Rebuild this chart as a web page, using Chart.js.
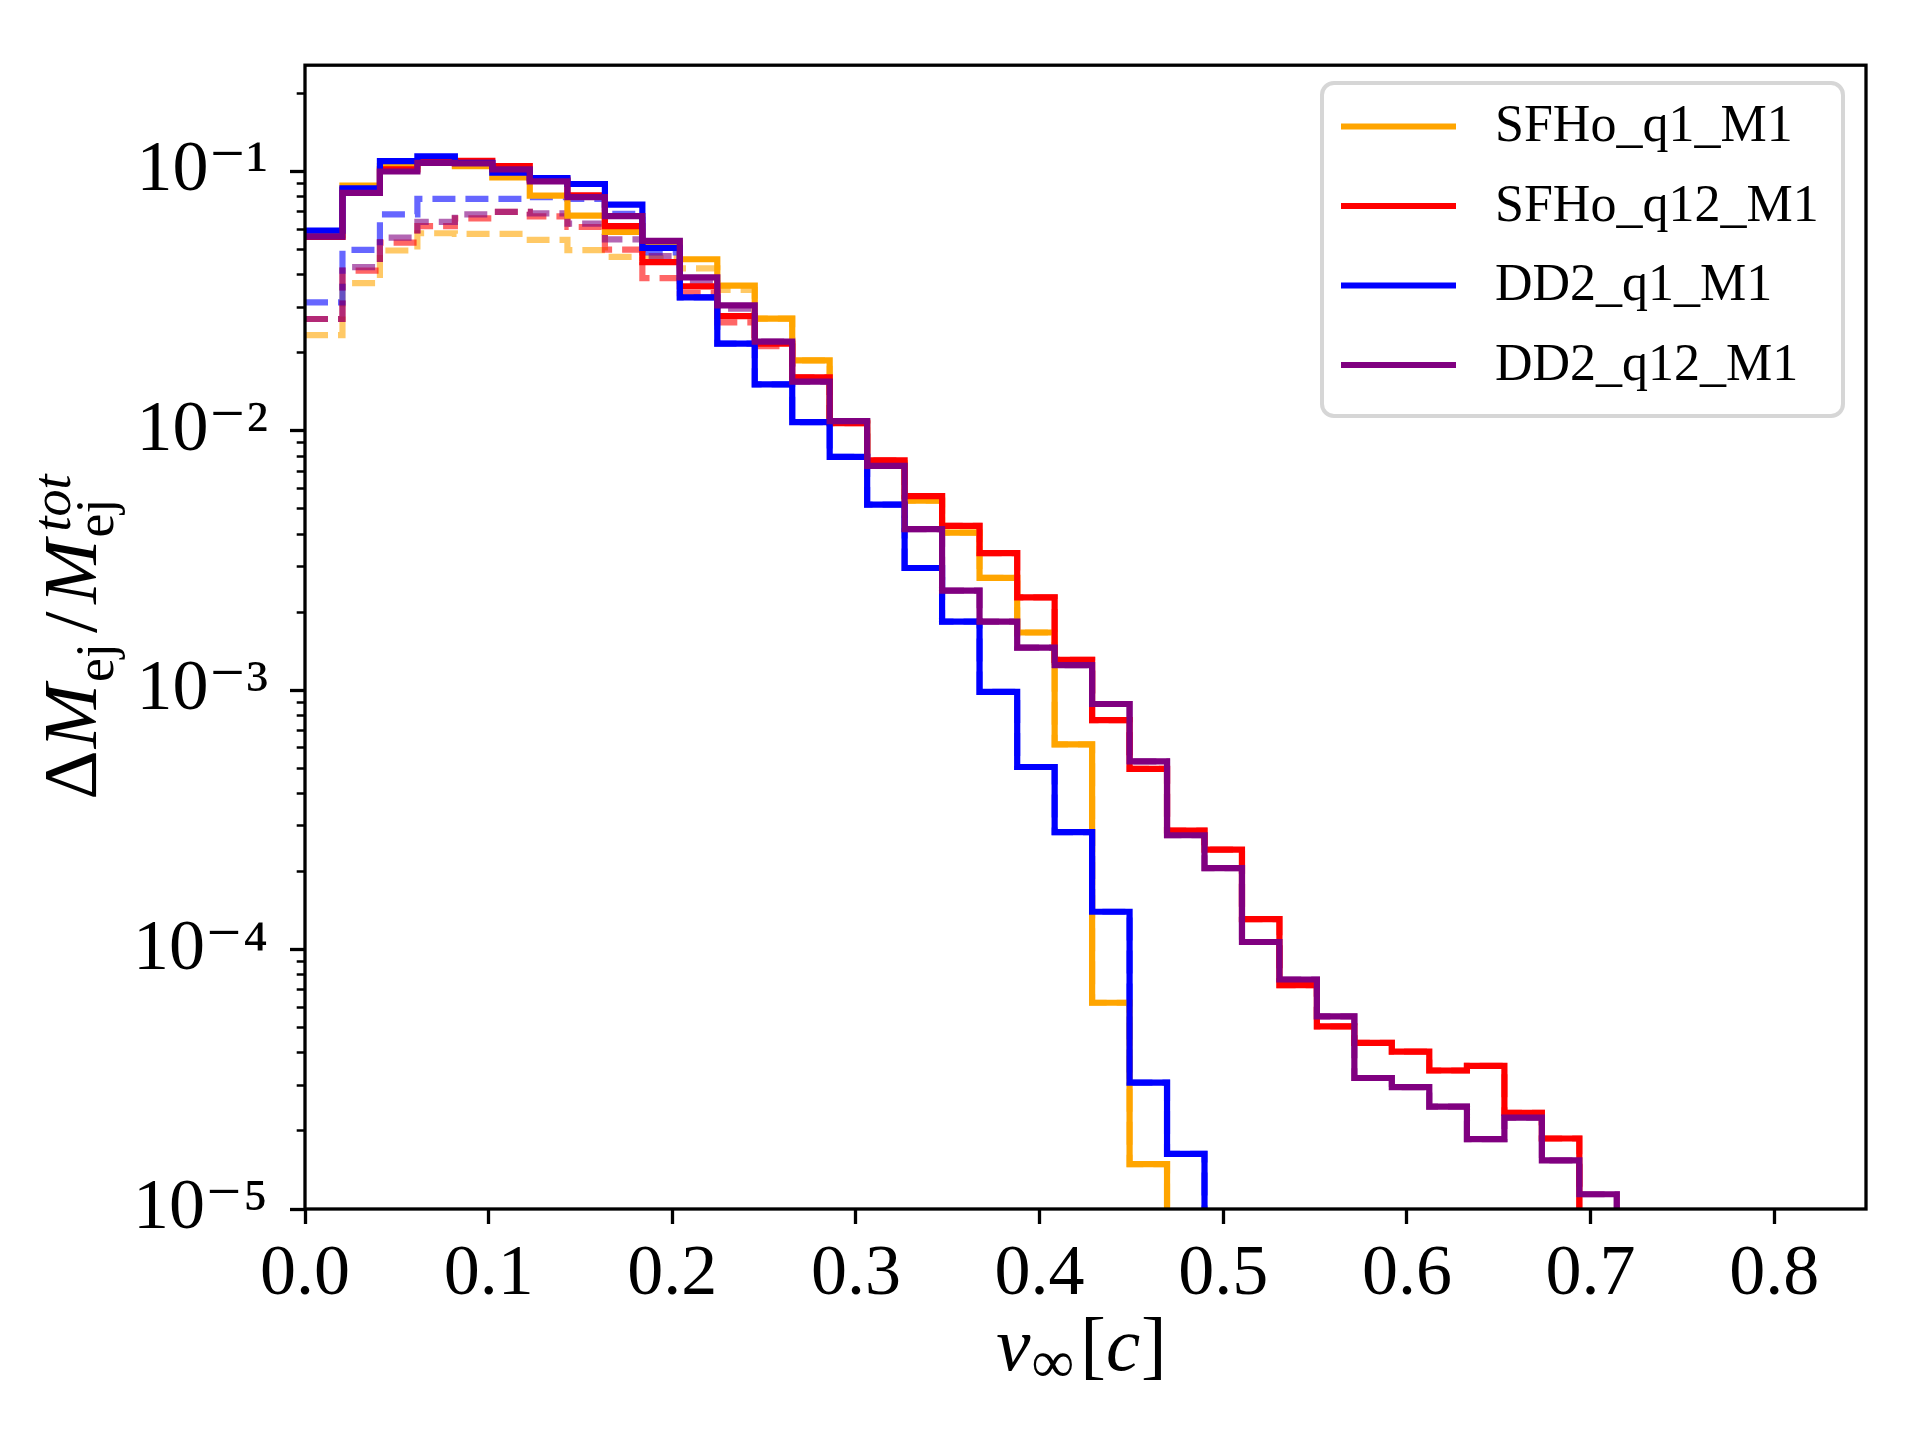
<!DOCTYPE html>
<html>
<head>
<meta charset="utf-8">
<script src="https://cdn.jsdelivr.net/npm/chart.js@4"></script>
<style>
  html, body { margin: 0; padding: 0; background: #ffffff; }
  #wrap { width: 1920px; height: 1440px; }
  canvas { display: block; }
</style>
</head>
<body>
<div id="wrap"><canvas id="c" width="1920" height="1440" style="width:1920px;height:1440px"></canvas></div>
<script>
// ---------------- data ----------------
// histogram bin edges (49 bins on [0,1], only the populated part listed)
const binEdges = [0, 0.0204, 0.0408, 0.0612, 0.0816, 0.1020, 0.1224, 0.1429, 0.1633, 0.1837,
  0.2041, 0.2245, 0.2449, 0.2653, 0.2857, 0.3061, 0.3265, 0.3469, 0.3673, 0.3878,
  0.4082, 0.4286, 0.4490, 0.4694, 0.4898, 0.5102, 0.5306, 0.5510, 0.5714, 0.5918,
  0.6122, 0.6327, 0.6531, 0.6735, 0.6939, 0.7143];

const seriesNames = ['SFHo_q1_M1', 'SFHo_q12_M1', 'DD2_q1_M1', 'DD2_q12_M1'];

// solid histograms
const sfhoQ1 = [0.057, 0.0882, 0.105, 0.109, 0.105, 0.0949, 0.0808, 0.0676, 0.0585, 0.053,
  0.0459, 0.0363, 0.0271, 0.0187, 0.0108, 0.0075, 0.00538, 0.00405, 0.00271, 0.00167,
  0.000618, 6.24e-5, 1.49e-5];
const sfhoQ12 = [0.056, 0.085, 0.102, 0.109, 0.110, 0.105, 0.093, 0.081, 0.0616, 0.0447,
  0.0361, 0.0277, 0.0217, 0.0161, 0.0107, 0.0077, 0.0056, 0.0043, 0.00338, 0.00228,
  0.00131, 0.000767, 0.000498, 0.000288, 0.000243, 0.000131, 7.3e-5, 5.06e-5, 4.37e-5, 4.04e-5,
  3.42e-5, 3.56e-5, 2.35e-5, 1.87e-5];
const dd2Q1 = [0.0592, 0.0862, 0.1097, 0.1145, 0.108, 0.099, 0.0943, 0.0895, 0.0745, 0.0508,
  0.0327, 0.0217, 0.0151, 0.0108, 0.00794, 0.0052, 0.00296, 0.00184, 0.000986, 0.000506,
  0.000284, 0.00014, 3.07e-5, 1.63e-5];
const dd2Q12 = [0.0561, 0.0827, 0.100, 0.108, 0.1075, 0.102, 0.0916, 0.0796, 0.0673, 0.054,
  0.0391, 0.0305, 0.0221, 0.0155, 0.0109, 0.00733, 0.00418, 0.00242, 0.00184, 0.00146,
  0.00125, 0.000885, 0.000532, 0.000276, 0.000206, 0.000107, 7.67e-5, 5.53e-5, 3.2e-5, 2.95e-5,
  2.48e-5, 1.86e-5, 2.25e-5, 1.54e-5, 1.14e-5];

// dashed (faded) histograms; beyond ~0.25 c they coincide with the solid ones
const sfhoQ1Dashed = [0.0234, 0.0371, 0.0496, 0.0578, 0.0575, 0.0575, 0.0545, 0.0498, 0.0469, 0.0465,
  0.0423, 0.035, 0.0271, 0.0187, 0.0108, 0.0075, 0.00538, 0.00405, 0.00271, 0.00167,
  0.000618, 6.24e-5, 1.49e-5];
const sfhoQ12Dashed = [0.027, 0.0415, 0.0532, 0.0616, 0.066, 0.0699, 0.0672, 0.0611, 0.050, 0.0388,
  0.034, 0.0262, 0.0212, 0.0161, 0.0107, 0.0077, 0.0056, 0.0043, 0.00338, 0.00228,
  0.00131, 0.000767, 0.000498, 0.000288, 0.000243, 0.000131, 7.3e-5, 5.06e-5, 4.37e-5, 4.04e-5,
  3.42e-5, 3.56e-5, 2.35e-5, 1.87e-5];
const dd2Q1Dashed = [0.0313, 0.0499, 0.0684, 0.0785, 0.0785, 0.0785, 0.0796, 0.0785, 0.0687, 0.0488,
  0.0327, 0.0217, 0.0151, 0.0108, 0.00794, 0.0052, 0.00296, 0.00184, 0.000986, 0.000506,
  0.000284, 0.00014, 3.07e-5, 1.63e-5];
const dd2Q12Dashed = [0.027, 0.0428, 0.0556, 0.064, 0.0684, 0.0699, 0.069, 0.063, 0.0548, 0.0472,
  0.0379, 0.0296, 0.0221, 0.0155, 0.0109, 0.00733, 0.00418, 0.00242, 0.00184, 0.00146,
  0.00125, 0.000885, 0.000532, 0.000276, 0.000206, 0.000107, 7.67e-5, 5.53e-5, 3.2e-5, 2.95e-5,
  2.48e-5, 1.86e-5, 2.25e-5, 1.54e-5, 1.14e-5];

// axis ticks
const xTicks = [0, 0.1, 0.2, 0.3, 0.4, 0.5, 0.6, 0.7, 0.8];
const xTickLabels = ['0.0', '0.1', '0.2', '0.3', '0.4', '0.5', '0.6', '0.7', '0.8'];
const yMajorTicks = [1e-5, 1e-4, 1e-3, 1e-2, 1e-1];
const yMajorLabels = ['10\u207B\u2075', '10\u207B\u2074', '10\u207B\u00B3', '10\u207B\u00B2', '10\u207B\u00B9'];
const yMinorMantissas = [2, 3, 4, 5, 6, 7, 8, 9];

// ---------------- style ----------------
const X_MIN = 0, X_MAX = 0.85, Y_MIN = 1e-5, Y_MAX = 0.257;
const FLOOR = 1e-9;           // below the axis: drop lines run off the bottom
const LW = 6.2;
const SERIF = "'Liberation Serif', 'DejaVu Serif', serif";
const colors = ['#FFA500', '#FF0000', '#0000FF', '#800080'];
const fadedColors = ['rgba(255,165,0,0.6)', 'rgba(255,0,0,0.6)', 'rgba(0,0,255,0.6)', 'rgba(128,0,128,0.6)'];

function stepPoints(vals) {
  const pts = [];
  vals.forEach((v, i) => pts.push({ x: binEdges[i], y: v > 0 ? v : FLOOR }));
  pts.push({ x: binEdges[vals.length], y: FLOOR });
  return pts;
}

const solid = [sfhoQ1, sfhoQ12, dd2Q1, dd2Q12];
const dashed = [sfhoQ1Dashed, sfhoQ12Dashed, dd2Q1Dashed, dd2Q12Dashed];

const datasets = [];
solid.forEach((vals, i) => datasets.push({
  label: seriesNames[i], data: stepPoints(vals), inLegend: true,
  borderColor: colors[i], backgroundColor: colors[i], borderWidth: LW,
  stepped: 'before', pointRadius: 0, fill: false, clip: 0,
  borderJoinStyle: 'miter', order: 3 - i
}));
dashed.forEach((vals, i) => datasets.push({
  label: seriesNames[i] + ' (dashed)', data: stepPoints(vals), inLegend: false,
  borderColor: fadedColors[i], backgroundColor: fadedColors[i], borderWidth: LW,
  borderDash: [23, 10], stepped: 'before', pointRadius: 0, fill: false, clip: 0,
  order: 10 + (3 - i)
}));

// ---------------- plugins ----------------
function drawRuns(ctx, runs, x, y) {
  let cx = x;
  for (const r of runs) {
    ctx.font = r.font;
    ctx.fillText(r.t, cx + (r.dx || 0), y + (r.dy || 0));
    if (!r.noAdvance) cx += (r.adv !== undefined ? r.adv : ctx.measureText(r.t).width) + (r.gap || 0);
  }
}
function runsWidth(ctx, runs) {
  let w = 0;
  for (const r of runs) {
    ctx.font = r.font;
    if (!r.noAdvance) w += (r.adv !== undefined ? r.adv : ctx.measureText(r.t).width) + (r.gap || 0);
  }
  return w;
}

const framePlugin = {
  id: 'frame',
  afterDatasetsDraw(chart) {
    const { ctx, chartArea: a } = chart;
    ctx.save();
    ctx.strokeStyle = '#000';
    ctx.lineWidth = 3.3;
    ctx.strokeRect(a.left, a.top, a.right - a.left, a.bottom - a.top);
    ctx.restore();
  }
};

const annotPlugin = {
  id: 'annot',
  afterDraw(chart) {
    const { ctx, chartArea: a } = chart;
    ctx.save();
    ctx.fillStyle = '#000';
    ctx.textBaseline = 'alphabetic';
    ctx.textAlign = 'left';

    // ---- legend ----
    const box = { l: 1322, t: 83, r: 1843, b: 416, rad: 12 };
    ctx.beginPath();
    ctx.roundRect(box.l, box.t, box.r - box.l, box.b - box.t, box.rad);
    ctx.fillStyle = 'rgba(255,255,255,0.8)';
    ctx.fill();
    ctx.lineWidth = 4;
    ctx.strokeStyle = 'rgba(204,204,204,0.8)';
    ctx.stroke();
    const items = chart.data.datasets.filter(d => d.inLegend);
    items.forEach((d, i) => {
      const y = 126.5 + i * 79.5;
      ctx.beginPath();
      ctx.moveTo(1341, y);
      ctx.lineTo(1456, y);
      ctx.strokeStyle = d.borderColor;
      ctx.lineWidth = LW;
      ctx.lineCap = 'butt';
      ctx.stroke();
      ctx.fillStyle = '#000';
      ctx.font = '52px ' + SERIF;
      ctx.textBaseline = 'middle';
      ctx.fillText(d.label, 1495, y + 1);
    });

    // ---- x axis title:  v_inf [c] ----
    ctx.textBaseline = 'alphabetic';
    ctx.fillStyle = '#000';
    const big = '77px ' + SERIF, bigI = 'italic 77px ' + SERIF, small = '54px ' + SERIF, smallI = 'italic 54px ' + SERIF;
    const xRuns = [
      { t: 'v', font: bigI, gap: 1 },
      { t: '\u221E', font: '60px ' + SERIF, dy: 12, gap: 6 },
      { t: '[', font: big },
      { t: 'c', font: bigI, gap: 1 },
      { t: ']', font: big }
    ];
    const xw = runsWidth(ctx, xRuns);
    drawRuns(ctx, xRuns, (a.left + a.right) / 2 - xw / 2 - 4, 1370);

    // ---- y axis title:  dM_ej / M_ej^tot (rotated) ----
    ctx.font = small;
    const wEj = ctx.measureText('ej').width;
    ctx.font = smallI;
    const wTot = ctx.measureText('tot').width;
    const yRuns = [
      { t: '\u0394', font: big, gap: 2 },
      { t: 'M', font: bigI, gap: 2 },
      { t: 'ej', font: small, dy: 17, gap: 10 },
      { t: '/', font: big, gap: 8 },
      { t: 'M', font: bigI, gap: 2 },
      { t: 'tot', font: smallI, dy: -26, dx: 6, noAdvance: true },
      { t: 'ej', font: small, dy: 17, adv: Math.max(wEj, wTot + 6) }
    ];
    const yw = runsWidth(ctx, yRuns);
    const cy = (a.top + a.bottom) / 2;
    ctx.translate(96, cy + yw / 2);
    ctx.rotate(-Math.PI / 2);
    drawRuns(ctx, yRuns, 0, 0);
    ctx.restore();
  }
};

// ---------------- chart ----------------
new Chart(document.getElementById('c'), {
  type: 'line',
  data: { datasets },
  options: {
    responsive: false,
    devicePixelRatio: 1,
    animation: false,
    events: [],
    layout: { padding: { left: 0, top: 55, right: 54, bottom: 0 } },
    plugins: { legend: { display: false }, tooltip: { enabled: false }, title: { display: false } },
    scales: {
      x: {
        type: 'linear', min: X_MIN, max: X_MAX,
        afterBuildTicks: (s) => { s.ticks = xTicks.map(v => ({ value: v, major: true })); },
        afterFit: (s) => { s.height = 1440 - 1209; },
        ticks: {
          autoSkip: false, maxRotation: 0, minRotation: 0, padding: 8,
          color: '#000', font: { family: SERIF, size: 72 },
          callback: (v) => { const i = xTicks.findIndex(t => Math.abs(t - v) < 1e-9); return i >= 0 ? xTickLabels[i] : ''; }
        },
        grid: { display: true, drawOnChartArea: false, drawTicks: true, tickLength: 15, tickWidth: 3.3, tickColor: '#000' },
        border: { display: false }
      },
      y: {
        type: 'logarithmic', min: Y_MIN, max: Y_MAX,
        afterBuildTicks: (s) => {
          const t = [];
          yMajorTicks.forEach(m => {
            if (m >= Y_MIN && m <= Y_MAX) t.push({ value: m, major: true });
            yMinorMantissas.forEach(k => { const v = k * m; if (v > Y_MIN && v < Y_MAX) t.push({ value: v, major: false }); });
          });
          t.sort((p, q) => p.value - q.value);
          s.ticks = t;
        },
        afterFit: (s) => { s.width = 305; },
        ticks: {
          autoSkip: false, padding: 22,
          color: '#000', font: { family: SERIF, size: 72 },
          callback: (v) => { const i = yMajorTicks.findIndex(t => Math.abs(t - v) / t < 1e-6); return i >= 0 ? yMajorLabels[i] : ''; }
        },
        grid: {
          display: true, drawOnChartArea: false, drawTicks: true, tickLength: 15, tickColor: '#000',
          tickWidth: (c) => (c.tick && c.tick.major) ? 3.3 : 2.5,
          tickBorderDash: (c) => (c.tick && c.tick.major) ? [] : [0, 6.7, 100]
        },
        border: { display: false }
      }
    }
  },
  plugins: [framePlugin, annotPlugin]
});
</script>
</body>
</html>
